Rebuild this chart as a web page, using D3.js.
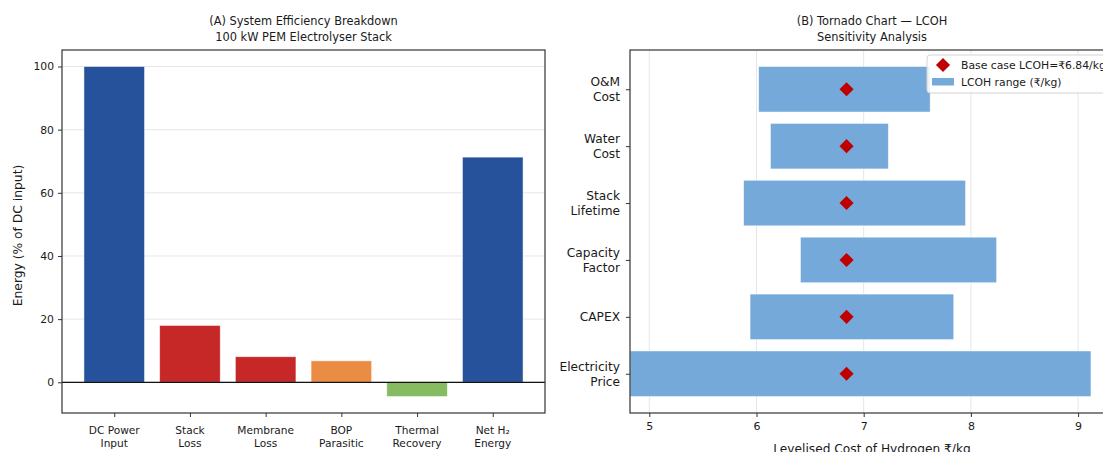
<!DOCTYPE html>
<html>
<head>
<meta charset="utf-8">
<script src="https://cdn.jsdelivr.net/npm/d3@7/dist/d3.min.js"></script>
<style>
  html, body { margin: 0; padding: 0; background: #fff; }
  svg { display: block; font-family: "DejaVu Sans", sans-serif; }
</style>
</head>
<body>
<svg id="chart" width="1103" height="452"></svg>
<script>
// ---- Panel A: efficiency breakdown ----
const stageLabels = [["DC Power", "Input"], ["Stack", "Loss"], ["Membrane", "Loss"], ["BOP", "Parasitic"], ["Thermal", "Recovery"], ["Net H\u2082", "Energy"]];
const stageValues = [100, 18.0, 8.1, 6.8, -4.5, 71.3];
const stageColors = ["#26519b", "#c62828", "#c62828", "#eb8c45", "#86bb62", "#26519b"];
const energyTicks = [0, 20, 40, 60, 80, 100];

// ---- Panel B: tornado sensitivity ----
const factors = [["Electricity", "Price"], ["CAPEX"], ["Capacity", "Factor"], ["Stack", "Lifetime"], ["Water", "Cost"], ["O&M", "Cost"]];
const lcohLow = [4.82, 5.94, 6.41, 5.88, 6.13, 6.02];
const lcohHigh = [9.12, 7.84, 8.24, 7.95, 7.23, 7.62];
const baseLcoh = 6.84;
const lcohTicks = [5, 6, 7, 8, 9];

const svg = d3.select("#chart");
const gridColor = "#e6e6e6";
const spineColor = "#333";
const textColor = "#1a1a1a";

// ===== Panel A =====
{
  const L = 62, R = 545, T = 50, B = 413;
  const n = stageValues.length;
  const x = d3.scaleLinear().domain([-0.69, n - 1 + 0.69]).range([L, R]);
  const yMin = d3.min(stageValues), yMax = d3.max(stageValues);
  const pad = (yMax - yMin) * 0.05;
  const y = d3.scaleLinear().domain([yMin - pad, yMax + pad]).range([B, T]);
  const g = svg.append("g");

  // grid
  g.selectAll(".gy").data(energyTicks).join("line")
    .attr("x1", L).attr("x2", R).attr("y1", d => y(d)).attr("y2", d => y(d))
    .attr("stroke", gridColor).attr("stroke-width", 1);

  // bars
  g.selectAll(".bar").data(stageValues).join("rect")
    .attr("x", (d, i) => x(i - 0.4))
    .attr("width", (d, i) => x(i + 0.4) - x(i - 0.4))
    .attr("y", d => y(Math.max(0, d)))
    .attr("height", d => Math.abs(y(d) - y(0)))
    .attr("fill", (d, i) => stageColors[i])
    .attr("stroke", "#ffffff").attr("stroke-opacity", 0.6).attr("stroke-width", 0.8);

  // zero line
  g.append("line").attr("x1", L).attr("x2", R).attr("y1", y(0)).attr("y2", y(0))
    .attr("stroke", "#111").attr("stroke-width", 1.2);

  // axes
  const yAxis = d3.axisLeft(y).tickValues(energyTicks).tickSize(4).tickPadding(4);
  const ga = g.append("g").attr("transform", `translate(${L},0)`).call(yAxis);
  const xAxis = d3.axisBottom(x).tickValues(d3.range(n)).tickSize(4).tickFormat("");
  const gx = g.append("g").attr("transform", `translate(0,${B})`).call(xAxis);
  [ga, gx].forEach(a => {
    a.select(".domain").remove();
    a.selectAll("line").attr("stroke", spineColor);
    a.selectAll("text").attr("fill", textColor).attr("font-size", "10.8px").attr("font-family", "DejaVu Sans, sans-serif");
  });

  // x labels
  stageLabels.forEach((lines, i) => {
    const t = g.append("text").attr("x", x(i)).attr("y", B + 21)
      .attr("text-anchor", "middle").attr("font-size", "10.6px").attr("fill", textColor);
    lines.forEach((s, j) => t.append("tspan").attr("x", x(i)).attr("dy", j === 0 ? 0 : "12.5px").text(s));
  });

  // frame
  g.append("rect").attr("x", L).attr("y", T).attr("width", R - L).attr("height", B - T)
    .attr("fill", "none").attr("stroke", spineColor).attr("stroke-width", 1.2);

  // title
  const tt = g.append("text").attr("x", (L + R) / 2).attr("y", 25).attr("text-anchor", "middle")
    .attr("font-size", "11.4px").attr("fill", textColor);
  tt.append("tspan").attr("x", (L + R) / 2).text("(A) System Efficiency Breakdown");
  tt.append("tspan").attr("x", (L + R) / 2).attr("dy", "15.5px").text("100 kW PEM Electrolyser Stack");

  // y label
  g.append("text").attr("transform", `translate(22,${(T + B) / 2 + 4}) rotate(-90)`)
    .attr("text-anchor", "middle").attr("font-size", "12.3px").attr("fill", textColor)
    .text("Energy (% of DC input)");
}

// ===== Panel B =====
{
  const L = 630, R = 1114, T = 50, B = 413;
  const n = factors.length;
  const xMin = d3.min(lcohLow), xMax = d3.max(lcohHigh);
  const x = d3.scaleLinear().domain([xMin, xMax + (xMax - xMin) * 0.05]).range([L, R]);
  const y = d3.scaleLinear().domain([-0.69, n - 1 + 0.69]).range([B, T]);
  const g = svg.append("g");

  g.selectAll(".gx").data(lcohTicks).join("line")
    .attr("x1", d => x(d)).attr("x2", d => x(d)).attr("y1", T).attr("y2", B)
    .attr("stroke", gridColor).attr("stroke-width", 1);

  g.selectAll(".range").data(factors).join("rect")
    .attr("x", (d, i) => x(lcohLow[i]))
    .attr("width", (d, i) => x(lcohHigh[i]) - x(lcohLow[i]))
    .attr("y", (d, i) => y(i + 0.4))
    .attr("height", (d, i) => y(i - 0.4) - y(i + 0.4))
    .attr("fill", "#74a9da")
    .attr("stroke", "#ffffff").attr("stroke-opacity", 0.6).attr("stroke-width", 0.8);

  const diamond = d3.symbol().type(d3.symbolSquare).size(100);
  g.selectAll(".base").data(factors).join("path")
    .attr("d", diamond)
    .attr("transform", (d, i) => `translate(${x(baseLcoh)},${y(i)}) rotate(45)`)
    .attr("fill", "#c00000");

  const xAxis = d3.axisBottom(x).tickValues(lcohTicks).tickFormat(d3.format("d")).tickSize(4).tickPadding(5);
  const gx = g.append("g").attr("transform", `translate(0,${B})`).call(xAxis);
  const yAxis = d3.axisLeft(y).tickValues(d3.range(n)).tickSize(4).tickFormat("");
  const gy = g.append("g").attr("transform", `translate(${L},0)`).call(yAxis);
  [gx, gy].forEach(a => {
    a.select(".domain").remove();
    a.selectAll("line").attr("stroke", spineColor);
    a.selectAll("text").attr("fill", textColor).attr("font-size", "11px").attr("font-family", "DejaVu Sans, sans-serif");
  });

  factors.forEach((lines, i) => {
    const t = g.append("text").attr("x", L - 10).attr("y", y(i) + 4.5)
      .attr("text-anchor", "end").attr("font-size", "12.2px").attr("fill", textColor);
    const nl = lines.length;
    lines.forEach((s, j) => t.append("tspan").attr("x", L - 10)
      .attr("dy", j === 0 ? (-(nl - 1) * 7.3) + "px" : "14.6px").text(s));
  });

  g.append("rect").attr("x", L).attr("y", T).attr("width", R - L).attr("height", B - T)
    .attr("fill", "none").attr("stroke", spineColor).attr("stroke-width", 1.2);

  const cx = (L + R) / 2;
  const tt = g.append("text").attr("x", cx).attr("y", 25).attr("text-anchor", "middle")
    .attr("font-size", "11.4px").attr("fill", textColor);
  tt.append("tspan").attr("x", cx).text("(B) Tornado Chart \u2014 LCOH");
  tt.append("tspan").attr("x", cx).attr("dy", "15.5px").text("Sensitivity Analysis");

  g.append("text").attr("x", cx).attr("y", 453).attr("text-anchor", "middle")
    .attr("font-size", "12.2px").attr("fill", textColor).text("Levelised Cost of Hydrogen \u20b9/kg");

  // legend
  const lg = g.append("g").attr("transform", "translate(927,55)");
  lg.append("rect").attr("width", 200).attr("height", 38).attr("rx", 3)
    .attr("fill", "#fff").attr("fill-opacity", 0.85).attr("stroke", "#d4d4d4");
  lg.append("path").attr("d", d3.symbol().type(d3.symbolSquare).size(100)())
    .attr("transform", "translate(16,10) rotate(45)").attr("fill", "#c00000");
  lg.append("text").attr("x", 34).attr("y", 14).attr("font-size", "10.8px").attr("fill", textColor)
    .text(`Base case LCOH=\u20b9${baseLcoh.toFixed(2)}/kg`);
  lg.append("rect").attr("x", 5).attr("y", 23).attr("width", 22).attr("height", 7.5).attr("fill", "#74a9da");
  lg.append("text").attr("x", 34).attr("y", 31).attr("font-size", "10.8px").attr("fill", textColor)
    .text("LCOH range (\u20b9/kg)");
}
</script>
</body>
</html>
